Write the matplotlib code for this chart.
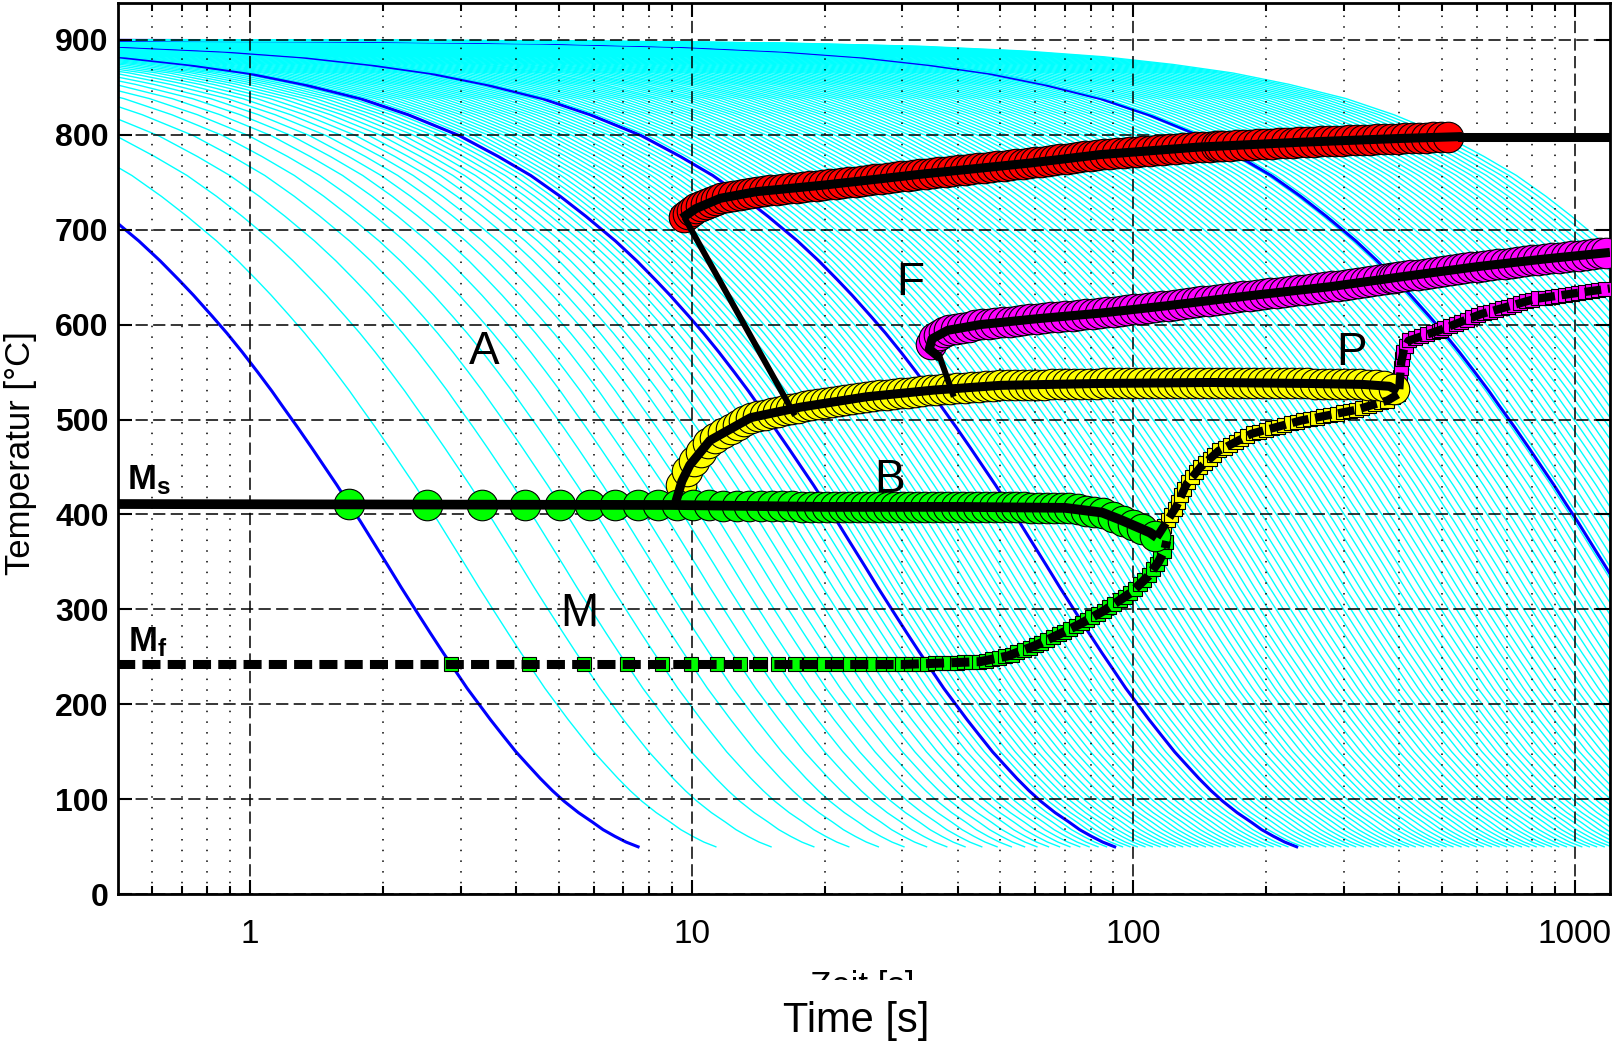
import numpy as np
import matplotlib
matplotlib.use('Agg')
import matplotlib.pyplot as plt
from matplotlib.patches import Rectangle
from matplotlib.ticker import LogLocator, NullFormatter

plt.rcParams['font.family'] = ['Liberation Sans', 'DejaVu Sans']
plt.rcParams['mathtext.fontset'] = 'custom'
plt.rcParams['mathtext.rm'] = 'Liberation Sans'
plt.rcParams['mathtext.bf'] = 'Liberation Sans:bold'

# cooling curve shape, time in units of the curve constant tau
cool_u = [0.0001, 0.001, 0.002, 0.004, 0.0082, 0.014, 0.021, 0.03, 0.041, 0.055,
          0.074, 0.095, 0.124, 0.152, 0.18, 0.21, 0.24, 0.28, 0.313, 0.345,
          0.372, 0.41, 0.443, 0.48, 0.52, 0.56, 0.592, 0.64, 0.69, 0.74,
          0.786, 0.84, 0.888, 0.95, 1.026, 1.1, 1.19, 1.28, 1.37, 1.46,
          1.55, 1.65, 1.75, 1.87, 2.0, 2.13, 2.27, 2.42, 2.57, 2.77,
          2.98, 3.15, 3.35, 3.55, 3.78]
cool_T = [900, 899, 898, 896.5, 893, 888, 882, 874, 865, 853,
          838, 821, 799, 777, 757, 735, 714, 688, 667, 647,
          631, 609, 591, 571, 550, 530, 514, 492, 470, 449,
          431, 410, 393, 371, 346, 323, 298, 275, 254, 235,
          217, 200, 184, 167, 150, 136, 122, 109, 98, 86,
          76, 68, 61, 55, 50]

tau_blue = [2, 24, 62, 1140]
tau_cyan = [3, 4, 5, 6, 7, 8, 9, 10, 11, 12, 13, 14, 15, 16, 17, 18, 19, 20, 21,
            22, 23, 25, 26, 27, 28.1, 29.2, 30.4, 31.6, 32.9, 34.2, 35.6, 37.0,
            38.5, 40.0, 41.6, 43.3, 45.0, 46.8, 48.7, 50.6, 52.7, 54.8, 57.0,
            59.2, 64.1, 66.6, 69.3, 72.1, 75.0, 78.0, 81.1, 84.3, 87.7, 91.2,
            94.9, 98.7, 102.6, 106.7, 111, 115, 120, 125, 130, 135, 140, 146,
            152, 158, 164, 171, 178, 185, 192, 200, 208, 216, 225, 234, 243, 253,
            263, 274, 285, 296, 308, 320, 333, 346, 360, 374, 389, 405, 421, 438,
            456, 474, 493, 512, 533, 554, 576, 599, 623, 648, 674, 701, 729, 758,
            789, 820, 853, 887, 923, 960, 998, 1038, 1079, 1122, 1167, 1214, 1263,
            1313, 1366, 1420, 1477, 1536, 1598, 1662, 1728, 1797, 1869, 1944,
            2022, 2103, 2187, 2274, 2365, 2460, 2558, 2660, 2767, 2877, 2992,
            3112, 3237, 3366, 3501, 3641, 3786, 3938, 4095]

# transformation lines (time s, temperature C)
ferrite_t = [9.5, 10.2, 11.6, 14, 20, 34, 58, 84, 141, 238, 400, 555]
ferrite_T = [712, 722, 733, 740, 747, 759, 770, 779, 787, 792, 796, 798]
ferrite_tail_t = [555, 1200]
ferrite_tail_T = [798, 798]
diag_t = [9.7, 17]
diag_T = [710, 507]

pearlite_t = [36.5, 34.5, 35, 38, 45, 60, 84, 120, 180, 280, 400, 600, 850, 1200]
pearlite_T = [565, 574, 585, 594, 600, 606, 612, 620, 630, 640, 650, 661, 669, 676]
link_t = [36.5, 39]
link_T = [565, 527]

bainite_t = [9.2, 9.5, 9.9, 11.0, 13.6, 17.6, 24.9, 35.3, 50, 84, 150, 250, 330, 380, 398]
bainite_T = [413, 435, 452, 478, 502, 513, 524, 531, 536, 538, 539, 538, 537, 535, 530]

ms_t = [0.5, 9.0, 20, 40, 70, 85, 94, 103, 109, 113]
ms_T = [411, 410, 408, 408, 407, 402, 394, 386, 381, 376]

mf_t = [0.5, 10, 30, 45, 52, 60, 68, 76, 86, 99, 108, 114, 118, 119]
mf_T = [242, 242, 242, 245, 251, 262, 274, 285, 299, 318, 335, 350, 364, 372]

bfin_t = [113, 120, 125, 132, 142, 156, 185, 240, 318, 376, 399]
bfin_T = [376, 395, 408, 432, 450, 467, 485, 499, 510, 520, 527]

pfin_t = [400, 404, 410, 420, 493, 612, 812, 1000, 1200]
pfin_T = [532, 560, 574, 583, 594, 611, 627, 633, 638]

region_labels = ['A', 'F', 'B', 'P', 'M']
region_t = [3.39, 31.2, 28.1, 312, 5.57]
region_T = [559, 631, 424, 557, 283]

cool_u = np.array(cool_u)
cool_T = np.array(cool_T, float)
taus_all = sorted(tau_cyan + tau_blue)


def crossings(bt, bT):
    # where each cooling curve meets a transformation line
    bx = np.log10(bt)
    by = np.asarray(bT, float)
    px, py = bx[:-1, None], by[:-1, None]
    rx, ry = np.diff(bx)[:, None], np.diff(by)[:, None]
    out_t, out_T = [], []
    for tau in taus_all:
        cx = np.log10(cool_u * tau)
        qx, qy = cx[None, :-1], cool_T[None, :-1]
        sx, sy = np.diff(cx)[None, :], np.diff(cool_T)[None, :]
        den = rx * sy - ry * sx
        with np.errstate(divide='ignore', invalid='ignore'):
            a = ((qx - px) * sy - (qy - py) * sx) / den
            b = ((qx - px) * ry - (qy - py) * rx) / den
        ok = (den != 0) & (a >= 0) & (a < 1) & (b >= 0) & (b <= 1)
        out_t.extend((10 ** (px + a * rx))[ok])
        out_T.extend((py + a * ry)[ok])
    return out_t, out_T


fig = plt.figure(figsize=(16.14, 10.43), dpi=100)
ax = fig.add_axes([0.0733, 0.1426, 0.9242, 0.8548])

for tau in taus_all:
    if tau in tau_blue:
        ax.plot(cool_u * tau, cool_T, color='#0000ff', lw=2.2, zorder=1)
    else:
        ax.plot(cool_u * tau, cool_T, color='#00ffff', lw=1.0, zorder=1)

dash = (0, (2.0, 0.8))
groups = [
    (mf_t, mf_T, 's', '#00ff00', 10, dash, 6.5),
    (bfin_t, bfin_T, 's', '#ffff00', 9.5, dash, 6.0),
    (pfin_t, pfin_T, 's', '#ff00ff', 9.5, dash, 6.0),
    (bainite_t, bainite_T, 'o', '#ffff00', 22, '-', 6.5),
    (ms_t, ms_T, 'o', '#00ff00', 22, '-', 7.0),
    (pearlite_t, pearlite_T, 'o', '#ff00ff', 22, '-', 6.5),
    (ferrite_t, ferrite_T, 'o', '#ff0000', 22, '-', 6.5),
]
for bt, bT, mk, fc, ms, ls, lw in groups:
    mt, mT = crossings(bt, bT)
    ax.plot(mt, mT, ls='none', marker=mk, ms=ms, mfc=fc, mec='black',
            mew=0.8, zorder=4)
for bt, bT, mk, fc, ms, ls, lw in groups:
    ax.plot(bt, bT, color='black', lw=lw, ls=ls, solid_capstyle='butt',
            dash_capstyle='butt', zorder=6)

ax.plot(ferrite_tail_t, ferrite_tail_T, color='black', lw=6.5, zorder=6)
ax.plot(diag_t, diag_T, color='black', lw=4.3, zorder=6)
ax.plot(link_t, link_T, color='black', lw=4.3, zorder=6)

for lab, t, T in zip(region_labels, region_t, region_T):
    ax.text(t, T, lab, fontsize=33, ha='center', va='baseline', zorder=3)
ax.text(0.527, 427, r'$\mathbf{M_s}$', fontsize=25, ha='left', va='baseline', zorder=3)
ax.text(0.53, 256, r'$\mathbf{M_f}$', fontsize=25, ha='left', va='baseline', zorder=3)

ax.set_xscale('log')
ax.set_xlim(0.503, 1200)
ax.set_ylim(0, 939)
ax.set_xticks([1, 10, 100, 1000])
ax.set_xticklabels(['1', '10', '100', '1000'])
ax.xaxis.set_minor_locator(LogLocator(base=10, subs=(2, 3, 4, 5, 6, 7, 8, 9)))
ax.xaxis.set_minor_formatter(NullFormatter())
ax.set_yticks([0, 100, 200, 300, 400, 500, 600, 700, 800, 900])

ax.set_axisbelow(False)
ax.grid(True, which='major', color='black', ls=(0, (8, 3.5)), lw=1.1)
ax.grid(True, which='minor', axis='x', color='black', ls=(0, (1, 6)), lw=1.1)
ax.tick_params(which='both', direction='in', top=True, right=True, width=1.5)
ax.tick_params(which='major', length=10)
ax.tick_params(which='minor', length=6)
ax.tick_params(axis='x', labelsize=24, pad=18)
ax.tick_params(axis='y', labelsize=23, pad=7)
for lbl in ax.get_yticklabels():
    lbl.set_fontweight('bold')
for sp in ax.spines.values():
    sp.set_linewidth(2)

fig.text(0.013, 0.5657, 'Temperatur [°C]', rotation=90, fontsize=25,
         ha='center', va='center')
# old German axis title, mostly hidden under the white band
fig.text(0.534, 0.0446, 'Zeit [s]', fontsize=25, ha='center', va='baseline', zorder=3)
fig.add_artist(Rectangle((0.4, 0.0), 0.25, 0.0604, transform=fig.transFigure,
                         facecolor='white', edgecolor='none', zorder=4))
fig.text(0.5304, 0.0108, 'Time [s]', fontsize=30, ha='center', va='baseline', zorder=5)

fig.savefig('out.png', dpi=100)
